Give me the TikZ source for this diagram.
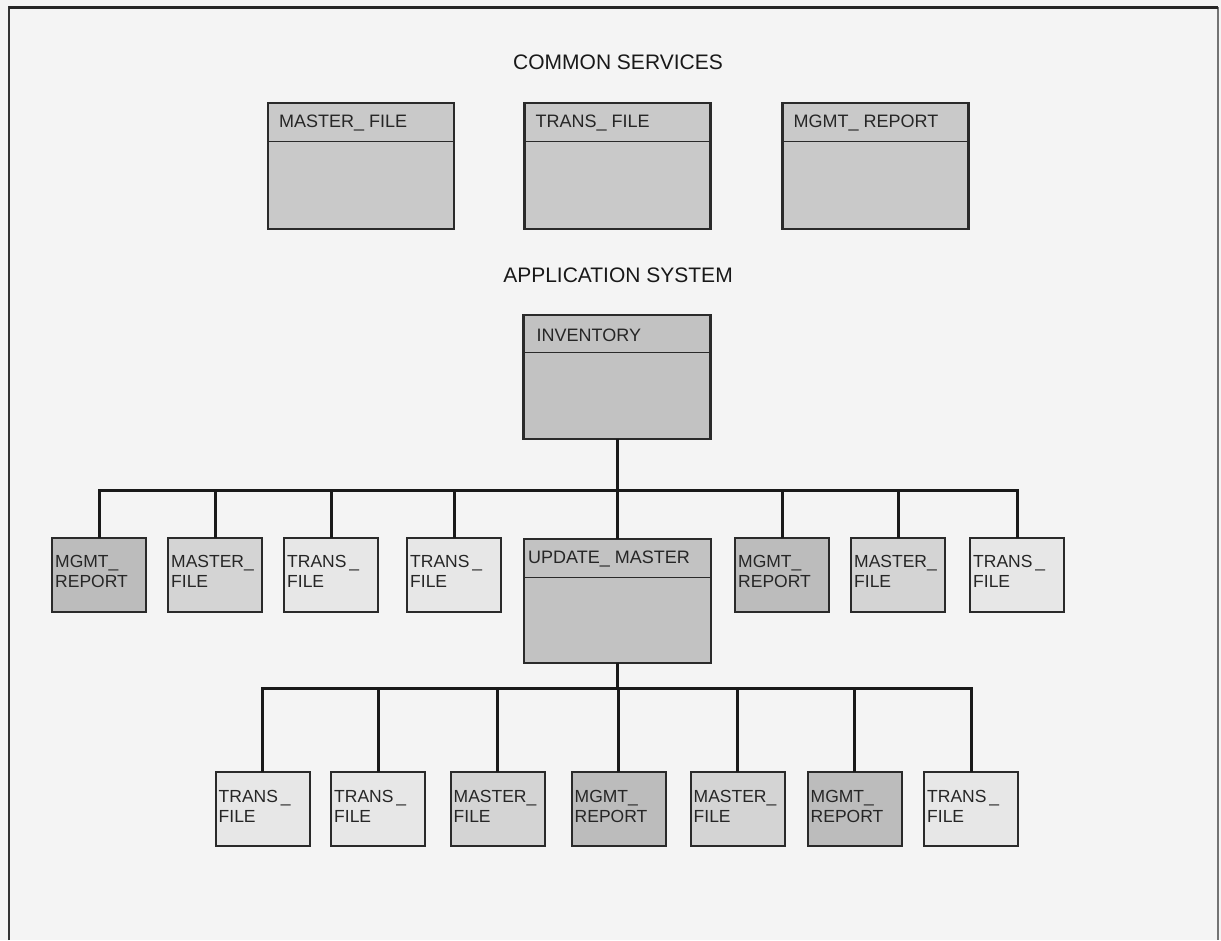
\documentclass[tikz,border=0pt]{standalone}
\usepackage{fontspec}
\setmainfont{Liberation Sans}
\usetikzlibrary{calc}
\definecolor{bgc}{HTML}{F4F4F4}
\definecolor{topc}{HTML}{C9C9C9}
\definecolor{bigc}{HTML}{C2C2C2}
\definecolor{mgmtc}{HTML}{BCBCBC}
\definecolor{mastc}{HTML}{D4D4D4}
\definecolor{transc}{HTML}{E7E7E7}
\definecolor{edgec}{HTML}{2A2A2A}
\tikzset{
  box/.style={draw=edgec, line width=2pt, inner sep=0pt, outer sep=0pt},
  topbox/.style={box, fill=topc, line width=2.5pt, minimum width=186pt, minimum height=126pt},
  bigbox/.style={box, fill=bigc, line width=2.5pt, minimum width=187pt, minimum height=124pt},
  smallbox/.style={box, minimum width=94pt, minimum height=74pt},
  mgmtbox/.style={smallbox, fill=mgmtc},
  mastbox/.style={smallbox, fill=mastc},
  transbox/.style={smallbox, fill=transc},
  divider/.style={draw=edgec, line width=1pt},
  conn/.style={draw=black!90, line width=3pt},
  lbl/.style={anchor=north west, inner sep=0pt, align=left, text=black!85, font=\fontsize{17.5}{20}\selectfont},
  hdr/.style={anchor=west, inner sep=0pt, text=black!85, font=\fontsize{18}{20}\selectfont},
  title/.style={inner sep=0pt, text=black!90, font=\fontsize{21}{24}\selectfont},
  frame/.style={draw=black!80, line width=2pt}
}
\begin{document}
\begin{tikzpicture}[x=1pt, y=-1pt]
\useasboundingbox[fill=bgc] (0,0) rectangle (1221,940);
% frame
\coordinate (f1) at (9,940);
\coordinate (f2) at (9,7);
\coordinate (f3) at (1218,7);
\coordinate (f4) at (1218,940);
\draw[frame] (f1) -- (f2) -- (f3);
\draw[draw=black!55, line width=1.5pt] (f3) -- (f4);
\draw[draw=black!85, line width=3pt] (f2) -- (f3);

% titles
\node[title] (tcs) at (618,62) {COMMON SERVICES};
\node[title] (tas) at (618,275) {APPLICATION SYSTEM};

% common services
\node[topbox] (cs1) at (361,166) {};
\node[topbox] (cs2) at (617.5,166) {};
\node[topbox] (cs3) at (875.5,166) {};
\foreach \n/\t in {cs1/{MASTER\_ FILE}, cs2/{TRANS\_ FILE}, cs3/{MGMT\_ REPORT}} {
  \draw[divider] ($(\n.north west)+(0,38)$) -- ($(\n.north east)+(0,38)$);
  \node[hdr] at ($(\n.north west)+(11,20)$) {\t};
}

% inventory
\node[bigbox] (inv) at (617,377) {};
\draw[divider] ($(inv.north west)+(0,37)$) -- ($(inv.north east)+(0,37)$);
\node[hdr] (invt) at ($(inv.north west)+(13,20)$) {INVENTORY};

% level 2
\node[mgmtbox]  (a1) at (99,574.5) {};
\node[mastbox]  (a2) at (215,574.5) {};
\node[transbox] (a3) at (331,574.5) {};
\node[transbox] (a4) at (454,574.5) {};
\node[bigbox]   (upd) at (617.5,601) {};
\node[mgmtbox]  (a6) at (782,574.5) {};
\node[mastbox]  (a7) at (898,574.5) {};
\node[transbox] (a8) at (1017,574.5) {};
\draw[divider] ($(upd.north west)+(0,38)$) -- ($(upd.north east)+(0,38)$);
\node[hdr] (updt) at ($(upd.north west)+(4,20)$) {UPDATE\_ MASTER};

\node[lbl] at ($(a1.north west)+(3,18)$) {MGMT\_\\REPORT};
\node[lbl] at ($(a2.north west)+(3,18)$) {MASTER\_\\FILE};
\node[lbl] at ($(a3.north west)+(3,18)$) {TRANS\,\_\\FILE};
\node[lbl] at ($(a4.north west)+(3,18)$) {TRANS\,\_\\FILE};
\node[lbl] at ($(a6.north west)+(3,18)$) {MGMT\_\\REPORT};
\node[lbl] at ($(a7.north west)+(3,18)$) {MASTER\_\\FILE};
\node[lbl] at ($(a8.north west)+(3,18)$) {TRANS\,\_\\FILE};

% bus 1
\coordinate (bus1) at (0,490);
\draw[conn] (inv.south) -- (inv.south |- bus1);
\draw[conn] (a1.north) -- (a1.north |- bus1) -- (a8.north |- bus1) -- (a8.north);
\foreach \n in {a2,a3,a4,upd,a6,a7} {
  \draw[conn] (\n.north |- bus1) -- (\n.north);
}

% level 3
\node[transbox] (b1) at (262.5,809) {};
\node[transbox] (b2) at (378,809) {};
\node[mastbox]  (b3) at (497.5,809) {};
\node[mgmtbox]  (b4) at (618.5,809) {};
\node[mastbox]  (b5) at (737.5,809) {};
\node[mgmtbox]  (b6) at (854.5,809) {};
\node[transbox] (b7) at (971,809) {};
\node[lbl] at ($(b1.north west)+(3,18)$) {TRANS\,\_\\FILE};
\node[lbl] at ($(b2.north west)+(3,18)$) {TRANS\,\_\\FILE};
\node[lbl] at ($(b3.north west)+(3,18)$) {MASTER\_\\FILE};
\node[lbl] at ($(b4.north west)+(3,18)$) {MGMT\_\\REPORT};
\node[lbl] at ($(b5.north west)+(3,18)$) {MASTER\_\\FILE};
\node[lbl] at ($(b6.north west)+(3,18)$) {MGMT\_\\REPORT};
\node[lbl] at ($(b7.north west)+(3,18)$) {TRANS\,\_\\FILE};

% bus 2
\coordinate (bus2) at (0,688);
\draw[conn] (upd.south) -- (upd.south |- bus2);
\draw[conn] (b1.north) -- (b1.north |- bus2) -- (b7.north |- bus2) -- (b7.north);
\foreach \n in {b2,b3,b4,b5,b6} {
  \draw[conn] (\n.north |- bus2) -- (\n.north);
}
\end{tikzpicture}
\end{document}
